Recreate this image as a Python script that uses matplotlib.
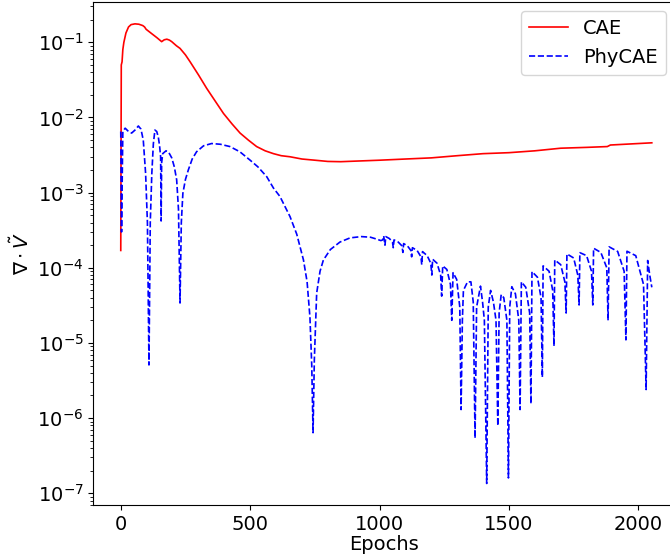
import matplotlib
matplotlib.use("Agg")
import matplotlib.pyplot as plt

# CAE (red, solid)
cae_epochs = [0, 2, 5, 8, 12, 20, 30, 40, 55, 70, 85, 92, 98, 120, 140, 158, 168, 178, 188, 197,
              215, 229, 250, 268, 300, 332, 365, 397, 430, 461, 493, 525, 558, 590, 620, 654,
              700, 750, 800, 850, 900, 1000, 1100, 1200, 1300, 1400, 1500, 1600, 1700, 1800,
              1880, 1892, 2000, 2052]
cae_values = [1.7e-4, 0.05, 0.055, 0.08, 0.1, 0.133, 0.16, 0.172, 0.176, 0.174, 0.167, 0.16, 0.149,
              0.13, 0.115, 0.102, 0.108, 0.11, 0.107, 0.102, 0.09, 0.083, 0.068, 0.055, 0.037,
              0.0244, 0.0165, 0.0113, 0.0082, 0.0062, 0.005, 0.0041, 0.0036, 0.0033, 0.0031,
              0.0030, 0.0028, 0.0027, 0.0026, 0.00258, 0.00262, 0.0027, 0.0028, 0.0029, 0.0031,
              0.0033, 0.0034, 0.0036, 0.0039, 0.0040, 0.0041, 0.0043, 0.0045, 0.0046]

# PhyCAE (blue, dashed)
phy_epochs = [0, 3, 8, 17, 30, 42, 55, 68, 78, 87, 96, 103, 109, 114, 120, 126, 132, 139, 145, 150,
              154, 156, 158, 162, 175, 186, 197, 207, 216, 223, 229, 234, 240, 250, 261, 276,
              293, 320, 351, 385, 422, 460, 500, 530, 564, 590, 615, 635, 654, 680, 706, 720,
              731, 738, 743, 748, 757, 770, 783, 810, 847, 886, 930, 965, 990, 1005,
              1012, 1016, 1021, 1024, 1038, 1050, 1053, 1056, 1072, 1087, 1090, 1093, 1108,
              1121, 1124, 1127, 1145, 1160, 1163, 1166, 1184, 1198, 1202, 1205, 1222, 1236,
              1240, 1244, 1260, 1274, 1279, 1284, 1298, 1310, 1315, 1320, 1324, 1340, 1353,
              1362, 1369, 1375, 1390, 1398, 1405, 1414, 1420, 1429, 1440, 1450, 1457, 1462,
              1470, 1480, 1492, 1498, 1503, 1511, 1525, 1538, 1543, 1548, 1565, 1580, 1585,
              1589, 1610, 1624, 1629, 1632, 1655, 1669, 1674, 1677, 1700, 1716, 1721, 1724,
              1750, 1766, 1771, 1774, 1800, 1819, 1824, 1827, 1855, 1878, 1883, 1887, 1920,
              1945, 1952, 1956, 1990, 2020, 2030, 2036, 2044, 2052]
phy_values = [6.5e-3, 3.0e-4, 6.5e-3, 7.2e-3, 6.5e-3, 6.2e-3, 6.8e-3, 7.7e-3, 7.0e-3, 5.0e-3,
              1.8e-3, 4e-4, 5.1e-6, 4e-4, 1.8e-3, 4.5e-3, 6.8e-3, 6.5e-3, 5.5e-3, 4.2e-3,
              3.0e-3, 4.2e-4, 2.5e-3, 3.3e-3, 3.6e-3, 3.4e-3, 2.9e-3, 2.2e-3, 1.48e-3, 6e-4,
              3.4e-5, 4e-4, 9.8e-4, 1.5e-3, 2.0e-3, 2.8e-3, 3.5e-3, 4.2e-3, 4.5e-3, 4.4e-3,
              4.1e-3, 3.5e-3, 2.7e-3, 2.2e-3, 1.63e-3, 1.15e-3, 8.9e-4, 6.5e-4, 4.8e-4, 2.8e-4,
              1.27e-4, 6.5e-5, 2.2e-5, 5e-6, 6.4e-7, 6e-6, 4.6e-5, 9e-5, 1.27e-4, 1.75e-4,
              2.2e-4, 2.5e-4, 2.6e-4, 2.55e-4, 2.4e-4, 2.3e-4,
              2.35e-4, 2.65e-4, 2.0e-4, 2.6e-4, 2.45e-4, 2.2e-4, 1.85e-4, 2.35e-4, 2.2e-4,
              1.95e-4, 1.6e-4, 2.1e-4, 1.95e-4, 1.7e-4, 1.4e-4, 1.85e-4, 1.7e-4, 1.4e-4,
              1.1e-4, 1.64e-4, 1.45e-4, 1.15e-4, 8e-5, 1.3e-4, 1.15e-4, 8e-5, 4.2e-5, 1.06e-4,
              9.5e-5, 6e-5, 2.0e-5, 8.6e-5, 7e-5, 3e-5, 1.3e-6, 2e-5, 5e-5, 6.5e-5, 6.5e-5,
              3.5e-5, 5.4e-7, 3e-5, 5.7e-5, 3.5e-5, 2e-5, 1.35e-7, 3e-5, 5e-5, 3.5e-5, 2e-5,
              7.9e-7, 2.5e-5, 4.4e-5, 4e-5, 2e-5, 1.6e-7, 3e-5, 5.6e-5, 4.5e-5, 2e-5, 1.3e-6,
              6.5e-5, 5.5e-5, 2.5e-5, 1.55e-6, 8.9e-5, 7.5e-5, 4e-5, 3.5e-6, 1.06e-4, 9e-5,
              5e-5, 9.1e-6, 1.27e-4, 1.1e-4, 6.5e-5, 2.5e-5, 1.53e-4, 1.35e-4, 8e-5, 3.2e-5,
              1.59e-4, 1.45e-4, 9e-5, 3.2e-5, 1.82e-4, 1.6e-4, 1e-4, 2.0e-5, 1.9e-4, 1.65e-4,
              9e-5, 1.1e-5, 1.66e-4, 1.45e-4, 6e-5, 2.4e-6, 1.25e-4, 8e-5, 5.5e-5]

labels = ["CAE", "PhyCAE"]

fig = plt.figure(figsize=(6.7, 5.59), dpi=100)
ax = fig.add_axes([0.1393, 0.0966, 0.8687, 0.9007])
ax.plot(cae_epochs, cae_values, color="red", linestyle="-", linewidth=1.2, label=labels[0])
ax.plot(phy_epochs, phy_values, color="blue", linestyle="--", linewidth=1.2, label=labels[1])
ax.set_yscale("log")
ax.set_xlim(-106, 2143)
ax.set_ylim(6.98e-8, 0.349)
ax.set_xticks([0, 500, 1000, 1500, 2000])
ax.tick_params(axis="both", labelsize=14)
ax.set_xlabel("Epochs", fontsize=14, labelpad=1)
ax.set_ylabel(r"$\nabla \cdot \tilde{V}$", fontsize=14)
ax.legend(loc="upper right", fontsize=14)
fig.savefig("out.png", dpi=100)
